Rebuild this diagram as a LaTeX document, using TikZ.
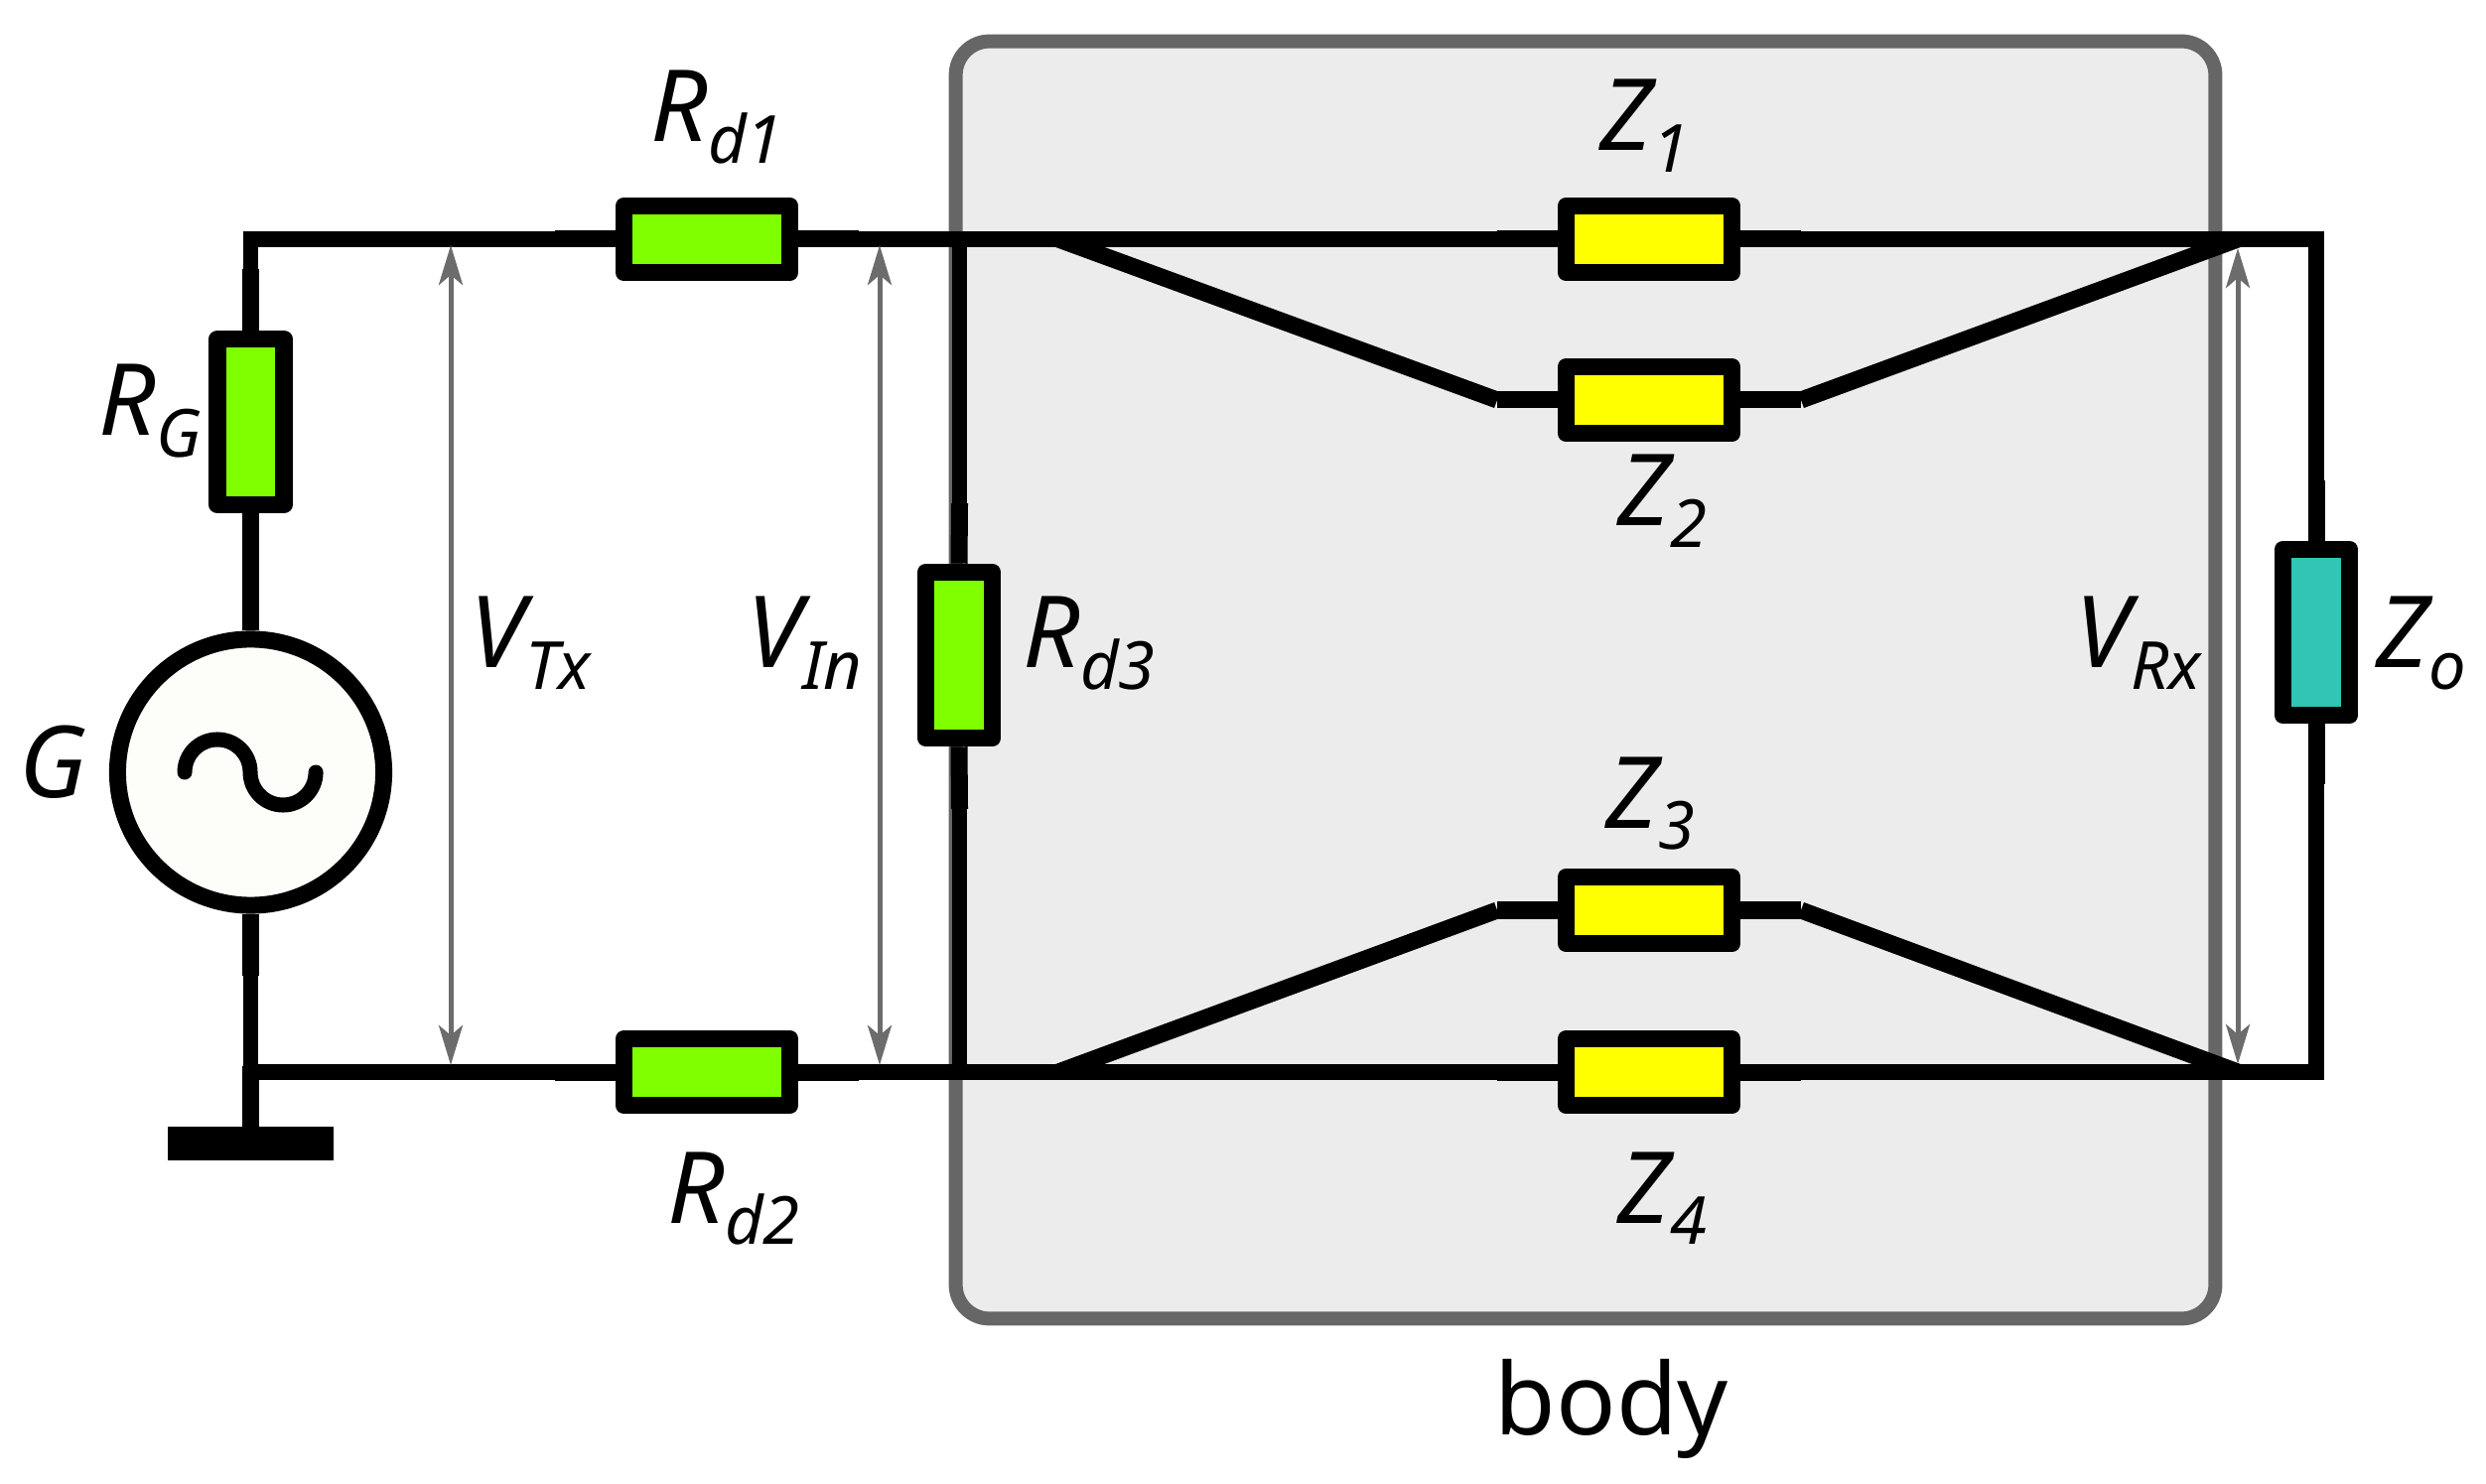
\documentclass[tikz,border=0pt]{standalone}
\usepackage{fontspec}
\setmainfont{Noto Sans}
\usetikzlibrary{arrows.meta}
\definecolor{limeres}{HTML}{7FFF00}
\definecolor{yellowres}{HTML}{FFFF00}
\definecolor{tealres}{HTML}{32C4B5}
\definecolor{bodygray}{HTML}{666666}
\definecolor{bodyfill}{HTML}{ECECEC}
\definecolor{gaugegray}{HTML}{6C6C6C}
\definecolor{genfill}{HTML}{FDFDFA}
\newcommand{\sublab}[2]{{\itshape #1}\raisebox{-0.21cm}{\fontsize{19}{19}\selectfont\itshape #2}}
\tikzset{
  hres/.style={draw=black,line width=0.175cm,line join=round,minimum width=1.67cm,minimum height=0.67cm,inner sep=0pt},
  vres/.style={draw=black,line width=0.175cm,line join=round,minimum width=0.67cm,minimum height=1.67cm,inner sep=0pt},
  wire/.style={line width=0.155cm,line join=miter},
  stub/.style={line width=0.17cm},
  gauge/.style={gaugegray,line width=0.05cm,{Stealth[length=0.4cm,width=0.24cm,inset=0.1cm]}-{Stealth[length=0.4cm,width=0.24cm,inset=0.1cm]}},
  lab/.style={anchor=base west,inner sep=0pt,font=\fontsize{28.5}{30}\selectfont},
}
\begin{document}
\begin{tikzpicture}[x=0.01cm,y=-0.01cm]
\useasboundingbox (0,0) rectangle (2504,1495);

% body
\node[draw=bodygray,fill=bodyfill,line width=0.14cm,rounded corners=0.34cm,minimum width=12.68cm,minimum height=12.86cm,inner sep=0pt] (body) at (1597,685) {};

% wire corners and free ends
\coordinate (TL) at (252.5,241);
\coordinate (BL) at (252.5,1080);
\coordinate (TR) at (2333,241);
\coordinate (BR) at (2333,1080);
\coordinate (JTL) at (1066,241);
\coordinate (JTR) at (2254,241);
\coordinate (JBL) at (1066,1080);
\coordinate (JBR) at (2254,1080);
\coordinate (JT3) at (966.5,241);
\coordinate (JB3) at (966.5,1080);

\coordinate (RGa) at (252.5,271);
\coordinate (Ga) at (252.5,983);
\coordinate (Gb) at (252.5,1074);
\coordinate (Rd1a) at (559,241);
\coordinate (Rd1b) at (865,241);
\coordinate (Rd2a) at (559,1080);
\coordinate (Rd2b) at (865,1080);
\coordinate (Rd3a) at (966.5,507);
\coordinate (Rd3b) at (966.5,815);
\coordinate (Z1a) at (1508,241);
\coordinate (Z1b) at (1814,241);
\coordinate (Z2a) at (1508,403);
\coordinate (Z2b) at (1814,403);
\coordinate (Z3a) at (1508,917);
\coordinate (Z3b) at (1814,917);
\coordinate (Z4a) at (1508,1080);
\coordinate (Z4b) at (1814,1080);
\coordinate (Zoa) at (2333,484);
\coordinate (Zob) at (2333,790);

% wires
\draw[wire] (RGa)--(TL)--(Rd1a);
\draw[wire] (Rd1b)--(Z1a);
\draw[wire] (Z1b)--(TR)--(Zoa);
\draw[wire] (Zob)--(BR)--(Z4b);
\draw[wire] (Z4a)--(Rd2b);
\draw[wire] (Rd2a)--(BL);
\draw[wire] (Ga)--(Gb);
\draw[wire] (JT3)--(Rd3a);
\draw[wire] (Rd3b)--(JB3);
\draw[stub] (JTL)--(Z2a);
\draw[stub] (Z2b)--(JTR);
\draw[stub] (JBL)--(Z3a);
\draw[stub] (Z3b)--(JBR);

% generator and ground
\node[draw=black,fill=genfill,circle,line width=0.17cm,minimum size=2.68cm,inner sep=0pt] (G) at (252.5,778) {};
\node[fill=black,minimum width=1.67cm,minimum height=0.33cm,inner sep=0pt] (gnd) at (252.5,1152) {};

% elements
\node[hres,fill=limeres] (Rd1) at (712,241) {};
\node[hres,fill=limeres] (Rd2) at (712,1080) {};
\node[vres,fill=limeres] (Rd3) at (966,660) {};
\node[vres,fill=limeres] (RG) at (252.5,425) {};
\node[vres,fill=tealres] (Zo) at (2333,637) {};
\node[hres,fill=yellowres] (Z1) at (1661,241) {};
\node[hres,fill=yellowres] (Z2) at (1661,403) {};
\node[hres,fill=yellowres] (Z3) at (1661,917) {};
\node[hres,fill=yellowres] (Z4) at (1661,1080) {};

% stubs
\draw[stub] (Rd1a)--(Rd1.west);
\draw[stub] (Rd1.east)--(Rd1b);
\draw[stub] (Rd2a)--(Rd2.west);
\draw[stub] (Rd2.east)--(Rd2b);
\draw[stub] (Rd3a)--(Rd3.north);
\draw[stub] (Rd3.south)--(Rd3b);
\draw[stub] (RGa)--(RG.north);
\draw[stub] (RG.south)--(G.north);
\draw[stub] (G.south)--(Ga);
\draw[stub] (Gb)--(gnd.north);
\draw[stub] (Zoa)--(Zo.north);
\draw[stub] (Zo.south)--(Zob);
\draw[stub] (Z1a)--(Z1.west);
\draw[stub] (Z1.east)--(Z1b);
\draw[stub] (Z2a)--(Z2.west);
\draw[stub] (Z2.east)--(Z2b);
\draw[stub] (Z3a)--(Z3.west);
\draw[stub] (Z3.east)--(Z3b);
\draw[stub] (Z4a)--(Z4.west);
\draw[stub] (Z4.east)--(Z4b);

% sine in the generator
\draw[line width=0.15cm,line cap=round] (186,778) arc[start angle=180,end angle=0,radius=0.33cm] arc[start angle=180,end angle=360,radius=0.33cm];

% voltages
\coordinate (VTxa) at (454,247);
\coordinate (VTxb) at (454,1073);
\coordinate (VIna) at (886,247);
\coordinate (VInb) at (886,1073);
\coordinate (VRxa) at (2254,250);
\coordinate (VRxb) at (2254,1072);
\draw[gauge] (VTxa)--(VTxb);
\draw[gauge] (VIna)--(VInb);
\draw[gauge] (VRxa)--(VRxb);

% labels
\node[lab] (lRd1) at (655,143) {\sublab{R}{d1}};
\node[lab] (lRd2) at (672,1232) {\sublab{R}{d2}};
\node[lab] (lRd3) at (1030,673) {\sublab{R}{d3}};
\node[lab] (lRG) at (99,439) {\sublab{R}{G}};
\node[lab] (lG) at (19,803) {\textit{G}};
\node[lab] (lVTx) at (473,673) {\sublab{V}{Tx}};
\node[lab] (lVIn) at (752,673) {\sublab{V}{In}};
\node[lab] (lVRx) at (2090,673) {\sublab{V}{Rx}};
\node[lab] (lZo) at (2393,673) {\sublab{Z}{o}};
\node[lab] (lZ1) at (1611,152) {\sublab{Z}{1}};
\node[lab] (lZ2) at (1629,530) {\sublab{Z}{2}};
\node[lab] (lZ3) at (1617,834) {\sublab{Z}{3}};
\node[lab] (lZ4) at (1629,1232) {\sublab{Z}{4}};
\node[lab] (lbody) at (1505,1445) {body};

\end{tikzpicture}
\end{document}
